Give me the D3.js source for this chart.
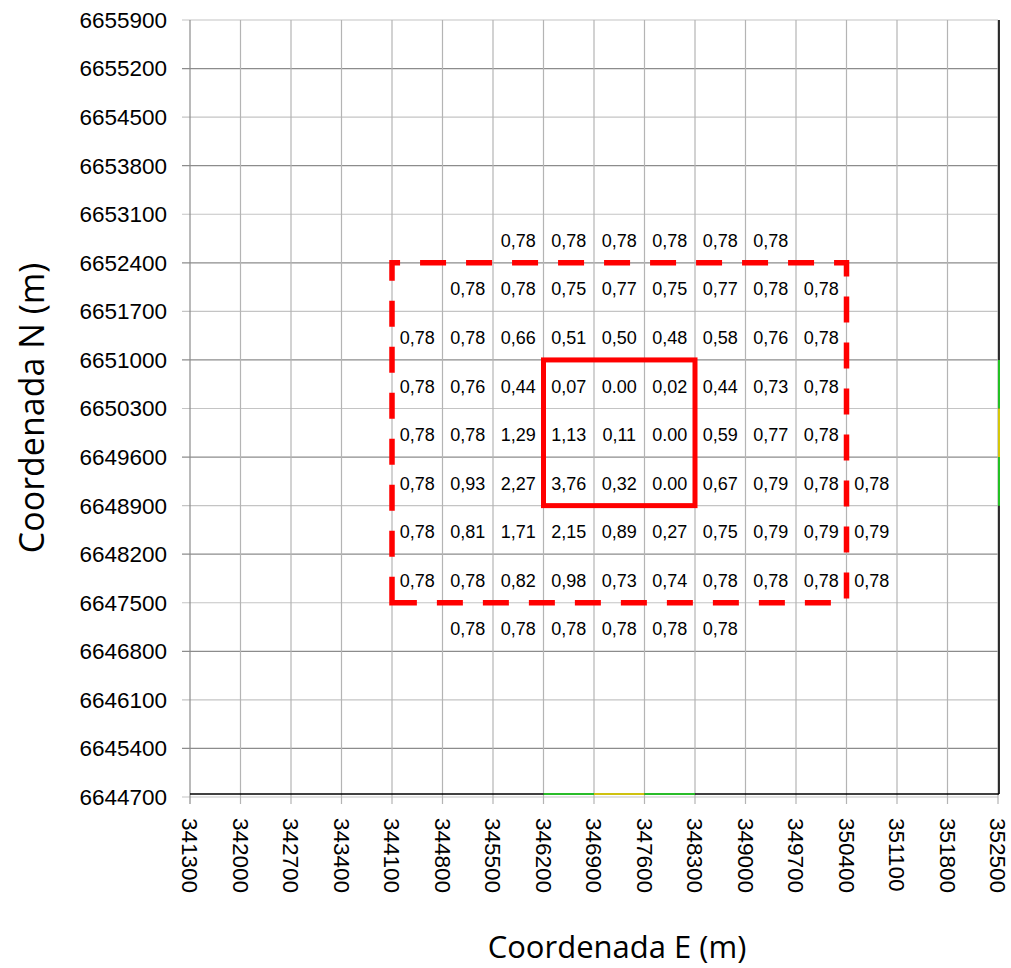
<!DOCTYPE html>
<html><head><meta charset="utf-8">
<script src="https://cdn.jsdelivr.net/npm/d3@7"></script>
<style>
html,body{margin:0;padding:0;background:#fff;}
svg{display:block;}
</style></head>
<body>
<svg id="chart" width="1011" height="968"></svg>
<script>
// ---- data ----
const xTicks = [341300,342000,342700,343400,344100,344800,345500,346200,346900,347600,348300,349000,349700,350400,351100,351800,352500];
const yTicks = [6644700,6645400,6646100,6646800,6647500,6648200,6648900,6649600,6650300,6651000,6651700,6652400,6653100,6653800,6654500,6655200,6655900];
const colE = [344450,345150,345850,346550,347250,347950,348650,349350,350050,350750];
const rowN = [6652750,6652050,6651350,6650650,6649950,6649250,6648550,6647850,6647150];
const row0 = [null,null,"0,78","0,78","0,78","0,78","0,78","0,78",null,null];
const row1 = [null,"0,78","0,78","0,75","0,77","0,75","0,77","0,78","0,78",null];
const row2 = ["0,78","0,78","0,66","0,51","0,50","0,48","0,58","0,76","0,78",null];
const row3 = ["0,78","0,76","0,44","0,07","0.00","0,02","0,44","0,73","0,78",null];
const row4 = ["0,78","0,78","1,29","1,13","0,11","0.00","0,59","0,77","0,78",null];
const row5 = ["0,78","0,93","2,27","3,76","0,32","0.00","0,67","0,79","0,78","0,78"];
const row6 = ["0,78","0,81","1,71","2,15","0,89","0,27","0,75","0,79","0,79","0,79"];
const row7 = ["0,78","0,78","0,82","0,98","0,73","0,74","0,78","0,78","0,78","0,78"];
const row8 = [null,"0,78","0,78","0,78","0,78","0,78","0,78",null,null,null];
const rows = [row0,row1,row2,row3,row4,row5,row6,row7,row8];
const outerZoneE = [344100,350400];
const outerZoneN = [6647500,6652400];
const innerZoneE = [346200,348300];
const innerZoneN = [6648900,6651000];
const bottomBandsE = [[346200,346900],[346900,347600],[347600,348300]];
const bottomBandColors = ["#22e622","#ffee00","#22e622"];
const rightBandsN = [[6650300,6651000],[6649600,6650300],[6648900,6649600]];
const rightBandColors = ["#22e622","#ffee00","#22e622"];
const xTitle = "Coordenada E (m)";
const yTitle = "Coordenada N (m)";

// ---- drawing ----
const svg = d3.select("#chart");
const x = d3.scaleLinear().domain([341300,352500]).range([190,998]);
const y = d3.scaleLinear().domain([6644700,6655900]).range([797,20]);
const tickFont = "'Liberation Sans', Arial, sans-serif";

// horizontal gridlines (alternating shade)
svg.append("g").selectAll("line").data(yTicks).join("line")
  .attr("x1", 182).attr("x2", 998)
  .attr("y1", d=>y(d)).attr("y2", d=>y(d))
  .attr("stroke", (d,i)=> ((16-i)%2===1) ? "#8c8c8c" : "#c4c4c4")
  .attr("stroke-width", 1.2);

// vertical gridlines
svg.append("g").selectAll("line").data(xTicks).join("line")
  .attr("x1", d=>x(d)).attr("x2", d=>x(d))
  .attr("y1", 20).attr("y2", 804)
  .attr("stroke", (d,i)=> i===0 ? "#8c8c8c" : "#b4b4b4")
  .attr("stroke-width", 1.2);

// black boundary lines of surface
svg.append("line").attr("x1", x(341300)).attr("x2", x(352500)+1)
  .attr("y1", y(6644700)-3).attr("y2", y(6644700)-3)
  .attr("stroke", "#000").attr("stroke-width", 1.6);
svg.append("line").attr("x1", x(352500)+1).attr("x2", x(352500)+1)
  .attr("y1", y(6655900)).attr("y2", y(6644700)-3)
  .attr("stroke", "#000").attr("stroke-width", 1.6);

// coloured band segments
svg.append("g").selectAll("line").data(bottomBandsE).join("line")
  .attr("x1", d=>x(d[0])).attr("x2", d=>x(d[1]))
  .attr("y1", y(6644700)-3).attr("y2", y(6644700)-3)
  .attr("stroke", (d,i)=>bottomBandColors[i]).attr("stroke-width", 1.6);
svg.append("g").selectAll("line").data(rightBandsN).join("line")
  .attr("x1", x(352500)+1).attr("x2", x(352500)+1)
  .attr("y1", d=>y(d[1])).attr("y2", d=>y(d[0]))
  .attr("stroke", (d,i)=>rightBandColors[i]).attr("stroke-width", 1.6);

// y tick labels
svg.append("g").selectAll("text").data(yTicks).join("text")
  .attr("x", 167).attr("y", d=>y(d)).attr("dy", "0.35em")
  .attr("text-anchor", "end")
  .attr("font-family", tickFont).attr("font-size", 22.5)
  .attr("fill", "#000")
  .text(d=>d);

// x tick labels, rotated
svg.append("g").selectAll("text").data(xTicks).join("text")
  .attr("transform", d=>`translate(${x(d)},818) rotate(90)`)
  .attr("dy", "0.35em")
  .attr("text-anchor", "start")
  .attr("font-family", tickFont).attr("font-size", 22.5)
  .attr("fill", "#000")
  .text(d=>d);

// data labels
const cells = [];
rows.forEach((r,ri)=> r.forEach((v,ci)=>{ if(v!==null) cells.push({e:colE[ci], n:rowN[ri], v}); }));
svg.append("g").selectAll("text").data(cells).join("text")
  .attr("x", d=>x(d.e)).attr("y", d=>y(d.n)+2).attr("dy", "0.35em")
  .attr("text-anchor", "middle")
  .attr("font-family", tickFont).attr("font-size", 18)
  .attr("fill", "#000")
  .text(d=>d.v);

// outer dashed zone (starts bottom-left going up)
const oz = d3.path();
oz.moveTo(x(outerZoneE[0]), y(outerZoneN[0]));
oz.lineTo(x(outerZoneE[0]), y(outerZoneN[1]));
oz.lineTo(x(outerZoneE[1]), y(outerZoneN[1]));
oz.lineTo(x(outerZoneE[1]), y(outerZoneN[0]));
oz.closePath();
svg.append("path").attr("d", oz.toString())
  .attr("fill", "none").attr("stroke", "#ff0000")
  .attr("stroke-width", 5.5).attr("stroke-dasharray", "26,20");

// inner solid zone
svg.append("rect")
  .attr("x", x(innerZoneE[0])).attr("y", y(innerZoneN[1]))
  .attr("width", x(innerZoneE[1]) - x(innerZoneE[0]))
  .attr("height", y(innerZoneN[0]) - y(innerZoneN[1]))
  .attr("fill", "none").attr("stroke", "#ff0000").attr("stroke-width", 5);

// axis titles
svg.append("text").attr("x", 617).attr("y", 958)
  .attr("text-anchor", "middle")
  .attr("font-family", "'Open Sans', sans-serif").attr("font-size", 31)
  .attr("fill", "#000").text(xTitle);
svg.append("text").attr("transform", "translate(44,408) rotate(-90)")
  .attr("text-anchor", "middle")
  .attr("font-family", "'Open Sans', sans-serif").attr("font-size", 34)
  .attr("fill", "#000").text(yTitle);
</script>
</body></html>
